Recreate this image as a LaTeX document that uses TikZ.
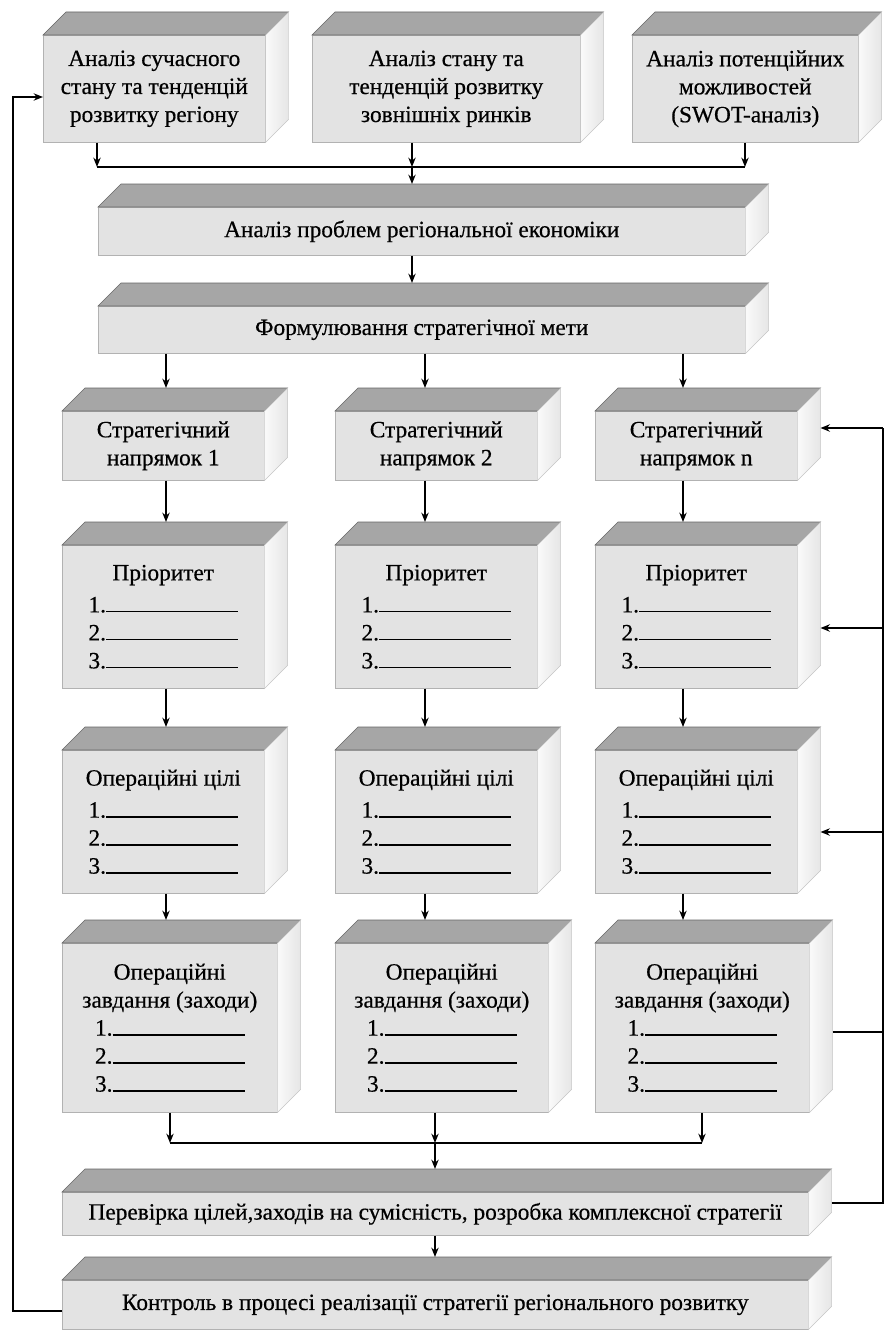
\documentclass[tikz,border=0pt]{standalone}
\usepackage{fontspec}
\setmainfont{Liberation Serif}
\newfontfamily\boxfont{Liberation Serif}[FakeBold=0.5]
\usetikzlibrary{arrows.meta}
\newcommand\lstline[1]{#1.\rule{99pt}{1.3pt}}
\tikzset{
  front/.style={draw=gray!60, fill=gray!22, inner sep=0pt, anchor=north west, align=center, font=\boxfont\fontsize{17.5}{21}\selectfont},
  sz/.style 2 args={minimum width=#1*0.75pt, minimum height=#2*0.75pt},
  topface/.style={draw=gray!80!black, fill=gray!70},
  sideface/.style={draw=gray!45, left color=gray!4, right color=gray!20},
  arr/.style={-{Stealth[length=7pt,width=5.5pt]}, line width=1.4pt},
  link/.style={line width=1.4pt}
}

\begin{document}
\begin{tikzpicture}[x=0.75pt,y=0.75pt,yscale=-1,xscale=1]
%uncomment if require: \path (0,1331); %set diagram left start at 0, and has height of 1331
\useasboundingbox (0,0) rectangle (885,1331);

%Shape: analysis boxes
\node[front, sz={222}{107}] (a1) at (43,35) {Аналіз сучасного\\стану та тенденцій\\розвитку регіону};
\node[front, sz={268}{107}] (a2) at (312,35) {Аналіз стану та\\тенденцій розвитку\\зовнішніх ринків};
\node[front, sz={226}{107}] (a3) at (632,35) {Аналіз потенційних\\можливостей\\(SWOT-аналіз)};
\node[front, sz={647}{48}] (prob) at (98,207) {Аналіз проблем регіональної економіки};
\node[front, sz={647}{47}] (form) at (98,306) {Формулювання стратегічної мети};

%Shape: strategic directions
\node[front, sz={202}{69}] (s1) at (62,411) {Стратегічний\\напрямок 1};
\node[front, sz={202}{69}] (s2) at (335,411) {Стратегічний\\напрямок 2};
\node[front, sz={202}{69}] (s3) at (595,411) {Стратегічний\\напрямок n};

%Shape: priorities
\node[front, sz={202}{143}] (p1) at (62,545) {Пріоритет\\[3pt]\lstline{1}\\\lstline{2}\\\lstline{3}};
\node[front, sz={202}{143}] (p2) at (335,545) {Пріоритет\\[3pt]\lstline{1}\\\lstline{2}\\\lstline{3}};
\node[front, sz={202}{143}] (p3) at (595,545) {Пріоритет\\[3pt]\lstline{1}\\\lstline{2}\\\lstline{3}};

%Shape: operational goals
\node[front, sz={202}{143}] (g1) at (62,750) {Операційні цілі\\[3pt]\lstline{1}\\\lstline{2}\\\lstline{3}};
\node[front, sz={202}{143}] (g2) at (335,750) {Операційні цілі\\[3pt]\lstline{1}\\\lstline{2}\\\lstline{3}};
\node[front, sz={202}{143}] (g3) at (595,750) {Операційні цілі\\[3pt]\lstline{1}\\\lstline{2}\\\lstline{3}};

%Shape: operational tasks
\node[front, sz={215}{169}] (t1) at (62,943) {Операційні\\завдання (заходи)\\\lstline{1}\\\lstline{2}\\\lstline{3}};
\node[front, sz={213}{169}] (t2) at (335,943) {Операційні\\завдання (заходи)\\\lstline{1}\\\lstline{2}\\\lstline{3}};
\node[front, sz={214}{169}] (t3) at (595,943) {Операційні\\завдання (заходи)\\\lstline{1}\\\lstline{2}\\\lstline{3}};

%Shape: check and control
\node[front, sz={746}{43}] (chk) at (62,1192) {Перевірка цілей,заходів на сумісність, розробка комплексної стратегії};
\node[front, sz={746}{49}] (ctrl) at (62,1280) {Контроль в процесі реалізації стратегії регіонального розвитку};

%Shape: top and side faces
\foreach \n in {a1,a2,a3,prob,form,s1,s2,s3,p1,p2,p3,g1,g2,g3,t1,t2,t3,chk,ctrl} {
  \draw[topface] (\n.north west) -- ++(23,-23) -- ([shift={(23,-23)}]\n.north east) -- (\n.north east) -- cycle;
  \draw[sideface] (\n.north east) -- ++(23,-23) -- ([shift={(23,-23)}]\n.south east) -- (\n.south east) -- cycle;
  \coordinate (\n-top) at ([shift={(0,-23)}]\n.north);
  \coordinate (\n-back) at ([shift={(23,0)}]\n.east);
}

%Straight Lines: top collector
\coordinate (in1) at (97,167);
\coordinate (in2) at (412,167);
\coordinate (in3) at (745,167);
\draw[arr] (a1.south -| in1) -- (in1);
\draw[arr] (a2.south -| in2) -- (in2);
\draw[arr] (a3.south -| in3) -- (in3);
\draw[link] (in1) -- (in3);
\draw[arr] (in2) -- (in2 |- prob-top);
\draw[arr] (prob.south -| in2) -- (in2 |- form-top);

%Straight Lines: columns
\coordinate (c1) at (166,0);
\coordinate (c2) at (425,0);
\coordinate (c3) at (683,0);
\foreach \c in {1,2,3} {
  \draw[arr] (form.south -| c\c) -- (c\c |- s\c-top);
  \draw[arr] (s\c.south -| c\c) -- (c\c |- p\c-top);
  \draw[arr] (p\c.south -| c\c) -- (c\c |- g\c-top);
  \draw[arr] (g\c.south -| c\c) -- (c\c |- t\c-top);
}

%Straight Lines: bottom collector
\coordinate (out1) at (170,1143);
\coordinate (out2) at (435,1143);
\coordinate (out3) at (702,1143);
\draw[arr] (t1.south -| out1) -- (out1);
\draw[arr] (t2.south -| out2) -- (out2);
\draw[arr] (t3.south -| out3) -- (out3);
\draw[link] (out1) -- (out3);
\draw[arr] (out2) -- (out2 |- chk-top);
\draw[arr] (chk.south -| out2) -- (out2 |- ctrl-top);

%Straight Lines: right feedback
\coordinate (fb1) at (883,428);
\coordinate (fb2) at (883,628);
\coordinate (fb3) at (883,832);
\coordinate (fb4) at (883,1032);
\coordinate (fb5) at (883,1203);
\draw[link] (chk-back |- fb5) -- (fb5) -- (fb1);
\draw[link] (t3-back |- fb4) -- (fb4);
\draw[arr] (fb1) -- (fb1 -| s3-back);
\draw[arr] (fb2) -- (fb2 -| p3-back);
\draw[arr] (fb3) -- (fb3 -| g3-back);

%Straight Lines: left feedback
\coordinate (fbL1) at (13,1311);
\coordinate (fbL2) at (13,97);
\draw[arr] (ctrl.west |- fbL1) -- (fbL1) -- (fbL2) -- (a1.west |- fbL2);

\end{tikzpicture}
\end{document}
